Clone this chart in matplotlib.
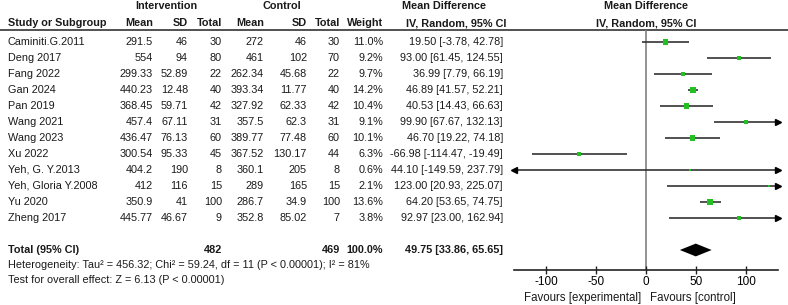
import matplotlib
matplotlib.use("Agg")
import matplotlib.pyplot as plt
import numpy as np

plt.rcParams['font.family'] = ['Liberation Sans', 'DejaVu Sans']
plt.rcParams['font.size'] = 7.8

studies = ["Caminiti.G.2011", "Deng 2017", "Fang 2022", "Gan 2024", "Pan 2019",
           "Wang 2021", "Wang 2023", "Xu 2022", "Yeh, G. Y.2013",
           "Yeh, Gloria Y.2008", "Yu 2020", "Zheng 2017"]
int_mean = ["291.5", "554", "299.33", "440.23", "368.45", "457.4", "436.47",
            "300.54", "404.2", "412", "350.9", "445.77"]
int_sd = ["46", "94", "52.89", "12.48", "59.71", "67.11", "76.13", "95.33",
          "190", "116", "41", "46.67"]
int_n = [30, 80, 22, 40, 42, 31, 60, 45, 8, 15, 100, 9]
ctl_mean = ["272", "461", "262.34", "393.34", "327.92", "357.5", "389.77",
            "367.52", "360.1", "289", "286.7", "352.8"]
ctl_sd = ["46", "102", "45.68", "11.77", "62.33", "62.3", "77.48", "130.17",
          "205", "165", "34.9", "85.02"]
ctl_n = [30, 70, 22, 40, 42, 31, 60, 44, 8, 15, 100, 7]
weight = [11.0, 9.2, 9.7, 14.2, 10.4, 9.1, 10.1, 6.3, 0.6, 2.1, 13.6, 3.8]
md = [19.50, 93.00, 36.99, 46.89, 40.53, 99.90, 46.70, -66.98, 44.10, 123.00, 64.20, 92.97]
lo = [-3.78, 61.45, 7.79, 41.57, 14.43, 67.67, 19.22, -114.47, -149.59, 20.93, 53.65, 23.00]
hi = [42.78, 124.55, 66.19, 52.21, 66.63, 132.13, 74.18, -19.49, 237.79, 225.07, 74.75, 162.94]

total_int, total_ctl = 482, 469
total_md, total_lo, total_hi = 49.75, 33.86, 65.65
het_text = "Heterogeneity: Tau² = 456.32; Chi² = 59.24, df = 11 (P < 0.00001); I² = 81%"
test_text = "Test for overall effect: Z = 6.13 (P < 0.00001)"
xticks = [-100, -50, 0, 50, 100]

W, H = 788, 305
fig = plt.figure(figsize=(W / 100, H / 100), dpi=100)

# rows: 16 px apart, first study at y=42 px
row0, step = 42, 16
def px2row(p):
    return (p - row0) / step

tab = fig.add_axes([0, 0, 1, 1])
tab.set_xlim(0, W)
tab.set_ylim(px2row(H), px2row(0))
tab.axis("off")

fx0, fx1, fy_top, fy_bot = 514, 778, 30, 270
xmin, xmax = -132, 132
ax = fig.add_axes([fx0 / W, (H - fy_bot) / H, (fx1 - fx0) / W, (fy_bot - fy_top) / H])
ax.set_xlim(xmin, xmax)
ax.set_ylim(px2row(fy_bot), px2row(fy_top))
for s in ["left", "right", "top"]:
    ax.spines[s].set_visible(False)
ax.spines["bottom"].set_color("#222222")
ax.spines["bottom"].set_linewidth(1.2)
ax.set_yticks([])
ax.set_xticks(xticks)
ax.set_xticklabels([str(t) for t in xticks])
ax.tick_params(axis="x", direction="inout", length=6, width=1.0, color="#222222",
               labelsize=8.5, pad=1)
ax.patch.set_alpha(0)

tc = "#1a1a1a"
y_h1 = px2row(6)
y_h2 = px2row(23)

# headers
tab.text(166, y_h1, "Intervention", ha="center", va="center", fontweight="bold", color=tc)
tab.text(282, y_h1, "Control", ha="center", va="center", fontweight="bold", color=tc)
tab.text(444, y_h1, "Mean Difference", ha="center", va="center", fontweight="bold", color=tc)
tab.text(456, y_h2, "IV, Random, 95% CI", ha="center", va="center", fontweight="bold", color=tc)
tab.text(8, y_h2, "Study or Subgroup", ha="left", va="center", fontweight="bold", color=tc)
col_x = [153, 188, 222, 264, 307, 340, 383]
col_h = ["Mean", "SD", "Total", "Mean", "SD", "Total", "Weight"]
for x, h in zip(col_x, col_h):
    tab.text(x, y_h2, h, ha="right", va="center", fontweight="bold", color=tc)
ax.text(0, y_h1, "Mean Difference", ha="center", va="center", fontweight="bold", color=tc, clip_on=False)
ax.text(0, y_h2, "IV, Random, 95% CI", ha="center", va="center", fontweight="bold", color=tc, clip_on=False)
tab.plot([0, W], [px2row(30), px2row(30)], color="#333333", lw=1.2)

# study rows
for i, name in enumerate(studies):
    y = i
    vals = [int_mean[i], int_sd[i], str(int_n[i]), ctl_mean[i], ctl_sd[i],
            str(ctl_n[i]), f"{weight[i]:.1f}%"]
    tab.text(8, y, name, ha="left", va="center", color=tc)
    for x, v in zip(col_x, vals):
        tab.text(x, y, v, ha="right", va="center", color=tc)
    tab.text(503, y, f"{md[i]:.2f} [{lo[i]:.2f}, {hi[i]:.2f}]", ha="right", va="center", color=tc)

# zero line
ax.axvline(0, color="#808080", lw=1.2, zorder=1)

# CIs and markers
for i in range(len(studies)):
    a, b = max(lo[i], xmin), min(hi[i], xmax)
    ax.plot([a, b], [i, i], color="#333333", lw=1.2, solid_capstyle="butt", zorder=2)
    if lo[i] < xmin:
        ax.plot(xmin, i, marker="<", color="black", markersize=4, clip_on=False, zorder=3)
    if hi[i] > xmax:
        ax.plot(xmax, i, marker=">", color="black", markersize=4, clip_on=False, zorder=3)
ax.scatter(md, range(len(studies)), marker="s", s=np.array(weight) * 1.3,
           color="#22c022", edgecolors="none", zorder=4)

# total
y_tot = px2row(250)
tab.text(8, y_tot, "Total (95% CI)", ha="left", va="center", fontweight="bold", color=tc)
tab.text(col_x[2], y_tot, str(total_int), ha="right", va="center", fontweight="bold", color=tc)
tab.text(col_x[5], y_tot, str(total_ctl), ha="right", va="center", fontweight="bold", color=tc)
tab.text(col_x[6], y_tot, "100.0%", ha="right", va="center", fontweight="bold", color=tc)
tab.text(503, y_tot, f"{total_md:.2f} [{total_lo:.2f}, {total_hi:.2f}]", ha="right",
         va="center", fontweight="bold", color=tc)
dh = 0.4
ax.fill([total_lo, total_md, total_hi, total_md], [y_tot, y_tot - dh, y_tot, y_tot + dh],
        color="black", lw=0, zorder=4)

tab.text(8, px2row(265), het_text, ha="left", va="center", color=tc)
tab.text(8, px2row(280), test_text, ha="left", va="center", color=tc)

y_fav = px2row(298)
ax.text(-5, y_fav, "Favours [experimental]", ha="right", va="center", color=tc,
        fontsize=8.3, clip_on=False)
ax.text(4, y_fav, "Favours [control]", ha="left", va="center", color=tc,
        fontsize=8.3, clip_on=False)

fig.savefig("out.png", dpi=100, facecolor="white")
